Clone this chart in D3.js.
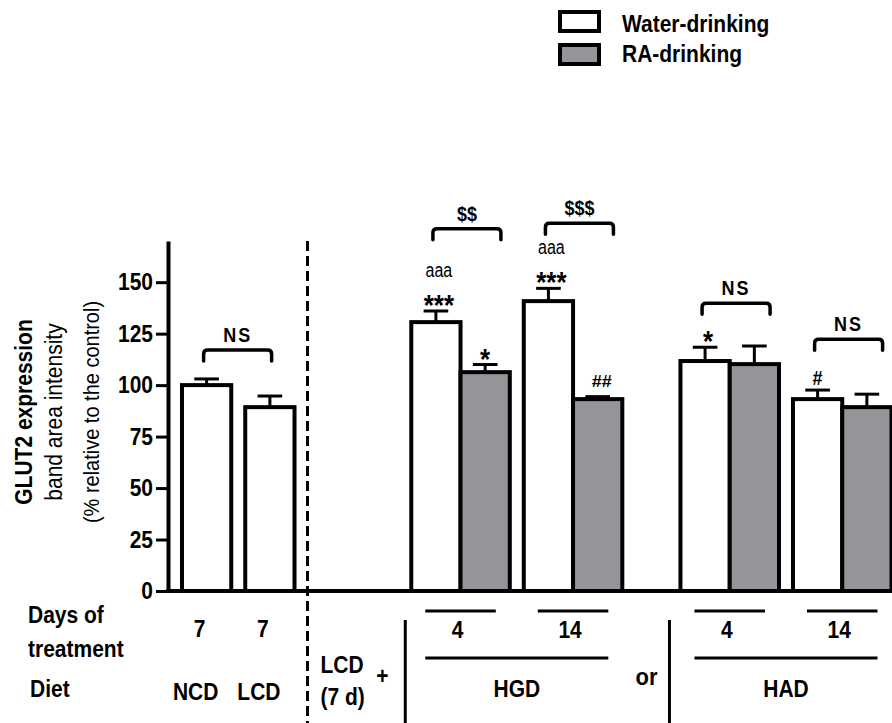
<!DOCTYPE html>
<html><head><meta charset="utf-8">
<script src="https://cdn.jsdelivr.net/npm/d3@7"></script>
<style>body{margin:0;background:#fff} svg{display:block}</style>
</head><body>
<script>
// ---------- data ----------
const groups      = ["NCD-7", "LCD-7", "HGD-4", "HGD-14", "HAD-4", "HAD-14"];
const dayLabels   = ["7", "7", "4", "14", "4", "14"];
const dietLabels  = ["NCD", "LCD"];
const waterMean   = [100, 89.3, 130.6, 140.8, 111.7, 93.2];
const waterSem    = [3.0, 5.4, 5.4, 6.2, 6.7, 4.4];
const raMean      = [null, null, 106.3, 93.2, 110.2, 89.3];
const raSem       = [null, null, 3.7, 1.2, 8.8, 6.3];
const waterStars  = ["", "", "***", "***", "*", "#"];
const waterLetters= ["", "", "aaa", "aaa", "", ""];
const raMarks     = ["", "", "*", "##", "", ""];
const bracketBars   = [[0, 1], [2, 3], [4, 5], [6, 7], [8, 9]];
const bracketLabels = ["NS", "$$", "$$$", "NS", "NS"];
const bracketLevels = [117, 176, 178.6, 139.8, 122.3];
const yTicks      = [0, 25, 50, 75, 100, 125, 150];
const seriesNames = ["Water-drinking", "RA-drinking"];

// ---------- layout ----------
const W = 892, H = 723;
const FONT = '"Liberation Sans", Arial, Helvetica, sans-serif';
const S = 1.12; // vertical glyph stretch
const GRAY = "#939598";
const gapsBefore = [0.284, 0.284, 2.37, 0.284, 1.18, 0.284];

const svg = d3.select("body").append("svg").attr("width", W).attr("height", H)
  .style("font-family", FONT);

// build flat bar list
const bars = [];
const groupSpan = [];
let cur = 0;
groups.forEach((g, i) => {
  cur += gapsBefore[i];
  const start = cur;
  bars.push({g: i, series: 0, pos: cur, v: waterMean[i], e: waterSem[i]});
  cur += 1;
  if (raMean[i] != null) {
    bars.push({g: i, series: 1, pos: cur, v: raMean[i], e: raSem[i]});
    cur += 1;
  }
  groupSpan.push([start, cur]);
});
const totalUnits = cur + 0.01;

const x = d3.scaleLinear().domain([0, totalUnits]).range([168, 892]);
const y = d3.scaleLinear().domain([0, 170]).range([591, 241]);

function T(sel, px, py, s, o = {}) {
  const g = sel.append("g").attr("transform",
    `translate(${px},${py})` + (o.rot ? ` rotate(${o.rot})` : "") + ` scale(1,${o.s || S})`);
  return g.append("text")
    .attr("font-size", o.size || 21)
    .attr("font-weight", o.weight || "bold")
    .attr("text-anchor", o.anchor || "start")
    .attr("letter-spacing", o.ls || 0)
    .attr("fill", "#000")
    .text(s);
}

// ---------- y axis ----------
const yAxis = svg.append("g").attr("transform", `translate(${x(0)},0)`)
  .call(d3.axisLeft(y).tickValues(yTicks).tickSize(12).tickSizeOuter(0).tickPadding(3));
yAxis.select(".domain").attr("stroke", "#000").attr("stroke-width", 4);
yAxis.selectAll(".tick line").attr("stroke", "#000").attr("stroke-width", 3);
yAxis.selectAll(".tick text").attr("font-size", 21).attr("font-weight", "bold")
  .attr("font-family", FONT).attr("fill", "#000")
  .attr("transform", `scale(1,${S})`).attr("dy", "0.32em");

// ---------- y title ----------
const yc = 412;
T(svg, 32, yc, "GLUT2 expression", {rot: -90, anchor: "middle", size: 21});
T(svg, 62, yc, "band area intensity", {rot: -90, anchor: "middle", size: 21, weight: "normal"});
T(svg, 99, yc, "(% relative to the control)", {rot: -90, anchor: "middle", size: 20, weight: "normal"});

// ---------- dashed separator ----------
const bar2 = bars[1];
const dashX = x(bar2.pos + 1) + 13;
svg.append("line").attr("x1", dashX).attr("x2", dashX).attr("y1", y(170)).attr("y2", H)
  .attr("stroke", "#000").attr("stroke-width", 3).attr("stroke-dasharray", "10,5");

// ---------- bars ----------
const bw = x(1) - x(0);
const cx = b => x(b.pos + 0.5);
svg.append("g").selectAll("rect").data(bars).join("rect")
  .attr("x", b => x(b.pos)).attr("width", bw)
  .attr("y", b => y(b.v)).attr("height", b => y(0) - y(b.v))
  .attr("fill", b => b.series === 0 ? "#fff" : GRAY)
  .attr("stroke", "#000").attr("stroke-width", 4);

// error bars
const eg = svg.append("g").attr("stroke", "#000").attr("stroke-width", 3);
bars.forEach(b => {
  eg.append("line").attr("x1", cx(b)).attr("x2", cx(b)).attr("y1", y(b.v)).attr("y2", y(b.v + b.e));
  eg.append("line").attr("x1", cx(b) - bw / 4).attr("x2", cx(b) + bw / 4)
    .attr("y1", y(b.v + b.e)).attr("y2", y(b.v + b.e));
});

// x axis line
svg.append("line").attr("x1", x(0) - 2).attr("x2", W).attr("y1", y(0)).attr("y2", y(0))
  .attr("stroke", "#000").attr("stroke-width", 4);

// ---------- annotations over bars ----------
bars.forEach(b => {
  const top = y(b.v + b.e);
  if (b.series === 0) {
    const st = waterStars[b.g];
    if (st && st.startsWith("*")) T(svg, cx(b) + 3, top + 4, st, {anchor: "middle", size: 26});
    else if (st) T(svg, cx(b), top - 5, st, {anchor: "middle", size: 18});
    const lt = waterLetters[b.g];
    if (lt) T(svg, cx(b) + 3, top - 34, lt, {anchor: "middle", size: 16, weight: "normal", s: 1.25});
  } else {
    const m = raMarks[b.g];
    if (m && m.startsWith("*")) T(svg, cx(b), top + 4, m, {anchor: "middle", size: 26});
    else if (m) T(svg, cx(b) + 4, top - 10, m, {anchor: "middle", size: 18, s: 0.95});
  }
});

// brackets
const bg = svg.append("g").attr("fill", "none").attr("stroke", "#000").attr("stroke-width", 3.5)
  .attr("stroke-linecap", "round");
bracketBars.forEach((pair, i) => {
  const a = bars[pair[0]];
  const x1 = cx(a) - 3, x2 = x1 + 68;
  const yt = y(bracketLevels[i]), yb = yt + 11, r = 4;
  bg.append("path").attr("d",
    `M${x1},${yb} L${x1},${yt + r} Q${x1},${yt} ${x1 + r},${yt} L${x2 - r},${yt} Q${x2},${yt} ${x2},${yt + r} L${x2},${yb}`);
  T(svg, (x1 + x2) / 2, yt - 8, bracketLabels[i], {anchor: "middle", size: 18, ls: bracketLabels[i] === "NS" ? 2 : 0});
});

// ---------- legend ----------
const lg = svg.append("g");
seriesNames.forEach((name, i) => {
  lg.append("rect").attr("x", 560).attr("y", 12 + i * 33).attr("width", 39).attr("height", 19)
    .attr("fill", i === 0 ? "#fff" : GRAY).attr("stroke", "#000").attr("stroke-width", 4);
  T(lg, 622, 32 + i * 30, name, {size: 21});
});

// ---------- table below ----------
const tb = svg.append("g");
T(tb, 28, 623, "Days of");
T(tb, 28, 657, "treatment");
T(tb, 30, 697, "Diet");
// left groups (single bars)
[0, 1].forEach(gi => {
  const c = x((groupSpan[gi][0] + groupSpan[gi][1]) / 2);
  T(tb, c - 7, 637, dayLabels[gi], {anchor: "middle"});
  T(tb, c - 11, 700, dietLabels[gi], {anchor: "middle"});
});
T(tb, dashX + 13, 673, "LCD");
T(tb, dashX + 13, 705, "(7 d)");
const vl1 = x(groupSpan[2][0]) - 6, vl2 = x(groupSpan[4][0]) - 11;
T(tb, vl1 - 23, 684, "+", {anchor: "middle"});
T(tb, vl2 - 23, 685, "or", {anchor: "middle", size: 22});
const lineG = tb.append("g").attr("stroke", "#000").attr("stroke-width", 3);
[vl1, vl2].forEach(v => lineG.append("line").attr("x1", v).attr("x2", v).attr("y1", 620).attr("y2", H));
[2, 3, 4, 5].forEach(gi => {
  const l = x(groupSpan[gi][0]) + 14, r = x(groupSpan[gi][1]) - 14;
  lineG.append("line").attr("x1", l).attr("x2", r).attr("y1", 611).attr("y2", 611);
  T(tb, x((groupSpan[gi][0] + groupSpan[gi][1]) / 2) - 3, 638, dayLabels[gi], {anchor: "middle"});
});
[["HGD", 2, 3], ["HAD", 4, 5]].forEach(([lab, a, b]) => {
  const l = x(groupSpan[a][0]) + 14, r = x(groupSpan[b][1]) - 14;
  lineG.append("line").attr("x1", l).attr("x2", r).attr("y1", 658).attr("y2", 658);
  T(tb, (l + r) / 2, 697, lab, {anchor: "middle"});
});
</script>
</body></html>
